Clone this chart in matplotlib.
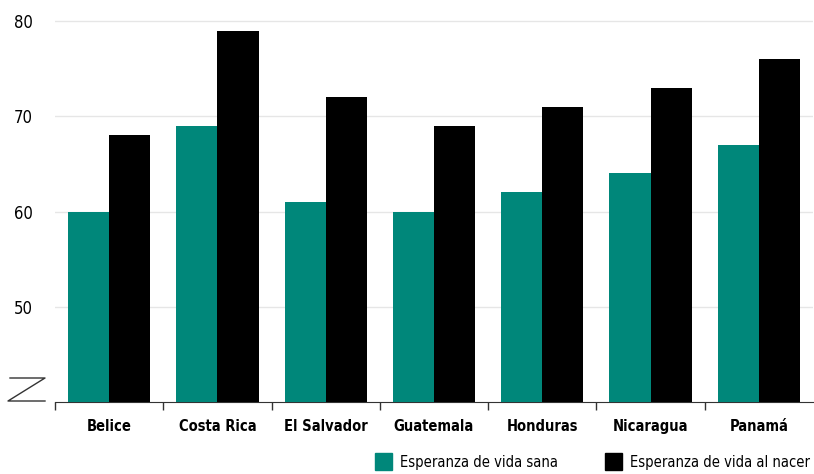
import numpy as np
import matplotlib.pyplot as plt
from matplotlib.lines import Line2D
from matplotlib.patches import Rectangle

countries = ['Belice', 'Costa Rica', 'El Salvador', 'Guatemala', 'Honduras', 'Nicaragua', 'Panamá']
vida_sana = [60, 69, 61, 60, 62, 64, 67]
vida_nacer = [68, 79, 72, 69, 71, 73, 76]
labels = ['Esperanza de vida sana', 'Esperanza de vida al nacer']
colors = ['#00877a', '#000000']

plt.rcParams['font.family'] = ['DejaVu Sans']
plt.rcParams['font.stretch'] = 'condensed'

fig = plt.figure(figsize=(8.14, 4.74), dpi=100)
ax = fig.add_axes([55/814, 1-402/474, 758/814, 400/474])

x = np.arange(len(countries))
w = 0.38
ax.bar(x - w/2, vida_sana, w, color=colors[0], zorder=3)
ax.bar(x + w/2, vida_nacer, w, color=colors[1], zorder=3)

ax.set_xlim(-0.5, len(countries) - 0.5)
ax.set_ylim(40, 82)
ax.set_yticks([50, 60, 70, 80])
ax.grid(axis='y', color='#e6e6e6', linewidth=1, zorder=0)
ax.tick_params(axis='y', length=0, labelsize=12, pad=16)

ax.set_xticks(x)
ax.set_xticklabels(countries, fontsize=10.5, fontweight='bold')
# separators between categories, none at the right end
ax.set_xticks(np.arange(-0.5, len(countries) - 1), minor=True)
ax.tick_params(axis='x', which='major', length=0, pad=12)
ax.tick_params(axis='x', which='minor', length=6, width=1, color='#333333')

for s in ['top', 'right', 'left']:
    ax.spines[s].set_visible(False)
ax.spines['bottom'].set_color('#333333')

# axis break mark
W, H = 814, 474
zx = [10/W, 45/W, 8/W, 45/W]
zy = [1-378/H, 1-378/H, 1-401/H, 1-401/H]
fig.add_artist(Line2D(zx, zy, color='#333333', linewidth=1, transform=fig.transFigure))

# legend
for px, lab, c in [(375, labels[0], colors[0]), (605, labels[1], colors[1])]:
    fig.add_artist(Rectangle((px/W, 1-470/H), 17/W, 17/H, color=c, transform=fig.transFigure))
    fig.text((px+25)/W, 1-462/H, lab, fontsize=10.5, va='center', ha='left')

fig.savefig('out.png', dpi=100)
